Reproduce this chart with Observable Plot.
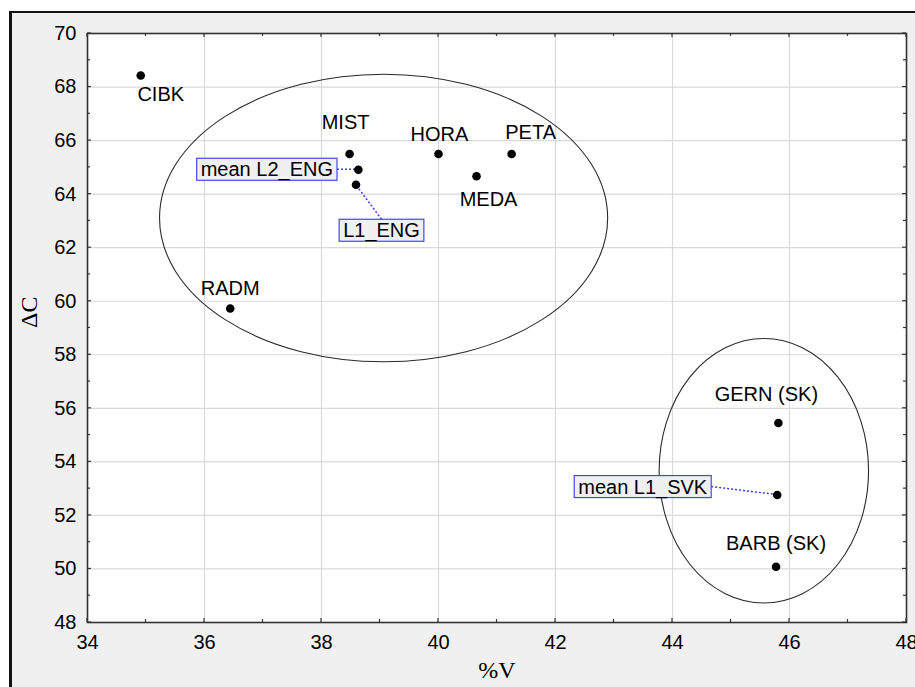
<!DOCTYPE html>
<html>
<head>
<meta charset="utf-8">
<script src="https://cdn.jsdelivr.net/npm/d3@7"></script>
<script src="https://cdn.jsdelivr.net/npm/@observablehq/plot@0.6"></script>
<style>
  html, body { margin: 0; padding: 0; background: #fff; overflow: hidden; }
  #panel {
    position: absolute; left: 9px; top: 11px; width: 1000px; height: 1000px;
    box-sizing: border-box; border-left: 3px solid #111; border-top: 2px solid #111;
    background: #f0f0f0;
  }
  #chart { position: absolute; left: 0; top: 0; }
</style>
</head>
<body>
<div id="panel"></div>
<div id="chart"></div>
<script>
// Speakers / group means: vowel proportion (%V) against consonantal variability (ΔC)
const names  = ["CIBK", "MIST", "mean L2_ENG", "L1_ENG", "HORA", "PETA", "MEDA", "RADM", "GERN (SK)", "mean L1_SVK", "BARB (SK)"];
const pctV   = [34.91, 38.48, 38.63, 38.59, 40.00, 41.25, 40.65, 36.44, 45.81, 45.79, 45.77];
const deltaC = [68.43, 65.50, 64.91, 64.35, 65.50, 65.50, 64.67, 59.73, 55.45, 52.76, 50.08];

// Group ellipses (English-speaking learners, Slovak natives)
const groupCx = [39.07, 45.57];
const groupCy = [63.09, 53.65];
const groupRx = [3.83, 1.79];
const groupRy = [5.37, 4.94];

// Axis ticks
const xTicks = [34, 36, 38, 40, 42, 44, 46, 48];
const yTicks = [48, 50, 52, 54, 56, 58, 60, 62, 64, 66, 68, 70];
const xMinor = [35, 37, 39, 41, 43, 45, 47];
const yMinor = [49, 51, 53, 55, 57, 59, 61, 63, 65, 67, 69];

// Label placement (pixel offsets from each point)
const plainLabels = [
  {name: "CIBK", dx: 20, dy: 19},
  {name: "MIST", dx: -4, dy: -31},
  {name: "HORA", dx: 1, dy: -19},
  {name: "PETA", dx: 19, dy: -21},
  {name: "MEDA", dx: 12, dy: 23},
  {name: "RADM", dx: 0, dy: -20},
  {name: "GERN (SK)", dx: -12, dy: -28},
  {name: "BARB (SK)", dx: 0, dy: -23}
];
const boxedLabels = [
  {name: "mean L2_ENG", dx: -91, dy: 0, attach: "right"},
  {name: "L1_ENG", dx: 26, dy: 46, attach: "top"},
  {name: "mean L1_SVK", dx: -134, dy: -8, attach: "right"}
];

const FONT = "'Liberation Sans', Arial, sans-serif";
const SERIF = "'Liberation Serif', 'Times New Roman', serif";
const SIZE = 20;

const points = names.map((name, i) => ({name, v: pctV[i], c: deltaC[i]}));
const groups = groupCx.map((cx, i) => ({cx, cy: groupCy[i], rx: groupRx[i], ry: groupRy[i]}));

// Ellipses outlining the two speaker groups
function groupEllipses(index, {x, y}) {
  const g = d3.create("svg:g").attr("fill", "none").attr("stroke", "#2a2a2a").attr("stroke-width", 1.1);
  for (const e of groups) {
    const cx = x(e.cx), cy = y(e.cy);
    g.append("ellipse")
      .attr("cx", cx).attr("cy", cy)
      .attr("rx", x(e.cx + e.rx) - cx)
      .attr("ry", y(e.cy - e.ry) - cy);
  }
  return g.node();
}

// Inward tick marks on all four sides of the plot frame
function innerTicks(index, {x, y}, values, dims) {
  const {width, height, marginTop, marginRight, marginBottom, marginLeft} = dims;
  const top = marginTop, bottom = height - marginBottom, left = marginLeft, right = width - marginRight;
  const g = d3.create("svg:g").attr("stroke", "#333").attr("stroke-width", 1.2);
  const xs = [...xTicks.map(t => [t, 4]), ...xMinor.map(t => [t, 3])];
  const ys = [...yTicks.map(t => [t, 4]), ...yMinor.map(t => [t, 3])];
  for (const [t, len] of xs) {
    const px = x(t);
    g.append("line").attr("x1", px).attr("x2", px).attr("y1", bottom).attr("y2", bottom - len);
    g.append("line").attr("x1", px).attr("x2", px).attr("y1", top).attr("y2", top + len);
  }
  for (const [t, len] of ys) {
    const py = y(t);
    g.append("line").attr("y1", py).attr("y2", py).attr("x1", left).attr("x2", left + len);
    g.append("line").attr("y1", py).attr("y2", py).attr("x1", right).attr("x2", right - len);
  }
  return g.node();
}

// Boxed annotations with dotted leader lines
function boxedAnnotations(index, {x, y}) {
  const g = d3.create("svg:g");
  const probe = d3.select(document.body).append("svg")
    .attr("width", 0).attr("height", 0).style("position", "absolute");
  for (const b of boxedLabels) {
    const i = names.indexOf(b.name);
    const px = x(pctV[i]), py = y(deltaC[i]);
    const cx = px + b.dx, cy = py + b.dy;
    const t = probe.append("text").attr("font-family", FONT).attr("font-size", SIZE).text(b.name);
    const w = t.node().getComputedTextLength() + 8;
    const h = 22;
    const ax = b.attach === "top" ? cx : cx + w / 2;
    const ay = b.attach === "top" ? cy - h / 2 : cy;
    g.append("line")
      .attr("x1", ax).attr("y1", ay).attr("x2", px).attr("y2", py)
      .attr("stroke", "#3b3bff").attr("stroke-width", 1.5).attr("stroke-dasharray", "2,2");
    g.append("rect")
      .attr("x", cx - w / 2).attr("y", cy - h / 2).attr("width", w).attr("height", h)
      .attr("fill", "#f0f0f0").attr("stroke", "#4646ff").attr("stroke-width", 1.2);
    g.append("text")
      .attr("x", cx).attr("y", cy + 7.2)
      .attr("text-anchor", "middle")
      .attr("font-family", FONT).attr("font-size", SIZE).attr("fill", "#000")
      .text(b.name);
  }
  probe.remove();
  return g.node();
}

const chart = Plot.plot({
  width: 915,
  height: 687,
  marginLeft: 87,
  marginTop: 33,
  marginRight: 9,
  marginBottom: 65,
  style: {background: "none", fontFamily: FONT, fontSize: `${SIZE}px`, color: "#000", overflow: "visible"},
  x: {domain: [34, 48]},
  y: {domain: [48, 70]},
  marks: [
    Plot.frame({fill: "#fff", stroke: null}),
    Plot.gridX(xTicks, {stroke: "#d9d9d9", strokeOpacity: 1, strokeWidth: 1.2}),
    Plot.gridY(yTicks, {stroke: "#d9d9d9", strokeOpacity: 1, strokeWidth: 1.2}),
    Plot.axisX(xTicks, {tickSize: 0, tickPadding: 12, label: null, fontSize: SIZE}),
    Plot.axisY(yTicks, {tickSize: 0, tickPadding: 11, label: null, fontSize: SIZE}),
    groupEllipses,
    Plot.frame({stroke: "#333", strokeWidth: 1.6}),
    innerTicks,
    boxedAnnotations,
    Plot.dot(points, {x: "v", y: "c", r: 4.3, fill: "#000", stroke: null}),
    ...plainLabels.map(l => Plot.text(points.filter(p => p.name === l.name), {
      x: "v", y: "c", text: "name", dx: l.dx, dy: l.dy, fontSize: SIZE, fill: "#000"
    })),
    Plot.text(["%V"], {frameAnchor: "bottom", dy: 55, fontFamily: SERIF, fontSize: 24, fill: "#000"}),
    Plot.text(["ΔC"], {frameAnchor: "left", dx: -58, rotate: -90, fontFamily: SERIF, fontSize: 24, fill: "#000"})
  ]
});

document.getElementById("chart").append(chart);
</script>
</body>
</html>
